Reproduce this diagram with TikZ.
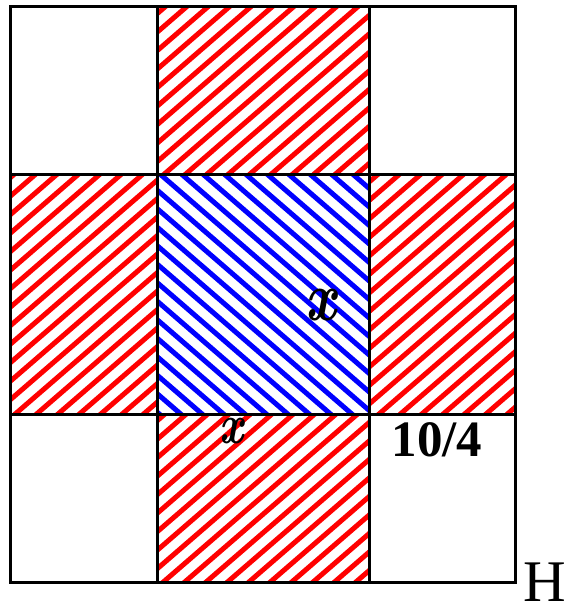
\documentclass[tikz,border=0pt]{standalone}
\usepackage{fontspec}
\setmainfont{Liberation Serif}
\newfontface\curlybi{lmroman10-bolditalic.otf}
\begin{document}
\begin{tikzpicture}[x=1pt,y=-1pt,
  gridline/.style={line width=3pt,black},
  redstripe/.style={red,line width=5pt},
  bluestripe/.style={blue,line width=5pt},
  lbl/.style={inner sep=0pt,text=black}]
\useasboundingbox (0,0) rectangle (570,607);
% red hatched cells
\begin{scope}
  \clip (157,7) rectangle (369.5,174)
        (10,174) rectangle (157,414.5)
        (369.5,174) rectangle (515.5,414.5)
        (157,414.5) rectangle (369.5,582);
  \foreach \k in {0,...,60}
    \draw[redstripe] ({1.8+21.4*\k},0) -- ({1.8+21.4*\k-702},607);
\end{scope}
% blue hatched cell
\begin{scope}
  \clip (157,174) rectangle (369.5,414.5);
  \foreach \k in {-34,...,27}
    \draw[bluestripe] ({1.5+21.4*\k},0) -- ({1.5+21.4*\k+702},607);
\end{scope}
% labels
\node[lbl] (bigx) at (321,305) {\fontsize{58}{58}\selectfont\scalebox{0.94}[1.2]{\curlybi x}};
\node[lbl] (smallx) at (231,431) {\fontsize{46}{46}\selectfont\scalebox{0.93}[1.22]{\curlybi x}};
\node[lbl] (ratio) at (437,440) {\fontsize{51}{51}\selectfont\bfseries 10/4};
\node[lbl] (hlabel) at (545,582) {\fontsize{59}{59}\selectfont H};
% grid
\draw[gridline] (10,7) rectangle (515.5,582);
\draw[gridline] (157,7) -- (157,582);
\draw[gridline] (369.5,7) -- (369.5,582);
\draw[gridline] (10,174) -- (515.5,174);
\draw[gridline] (10,414.5) -- (515.5,414.5);
\end{tikzpicture}
\end{document}
